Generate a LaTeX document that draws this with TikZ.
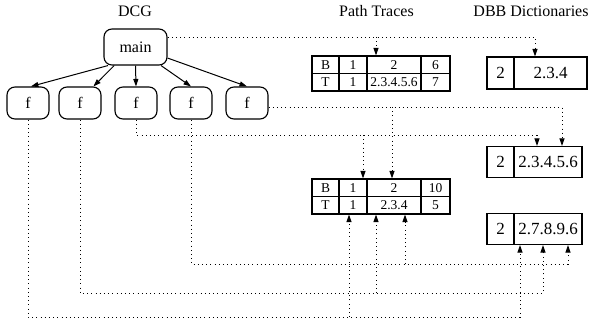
\documentclass[tikz,border=0pt]{standalone}
\usepackage{fontspec}
\setmainfont{Liberation Serif}
\usetikzlibrary{arrows.meta}

\begin{document}
\begin{tikzpicture}[x=1pt, y=-1pt,
  title/.style={font=\fontsize{16}{18}\selectfont, anchor=base},
  fun/.style={draw, line width=1.1pt, rounded corners=8pt, minimum width=42pt,
    minimum height=32pt, inner sep=0pt, font=\fontsize{16}{18}\selectfont},
  cell/.style={draw, line width=1.1pt, minimum height=17.5pt, inner sep=0pt,
    font=\fontsize{13.5}{15}\selectfont},
  dict/.style={draw, line width=1.1pt, minimum height=31pt, inner sep=0pt,
    font=\fontsize{17}{19}\selectfont},
  call/.style={-{Triangle[length=7.5pt,width=5pt]}, line width=1pt},
  trace/.style={line width=0.9pt, dash pattern=on 0.9pt off 3.3pt},
  tracearr/.style={trace, -{Triangle[length=7.5pt,width=5pt]}}]

  \useasboundingbox (0,0) rectangle (592,321);

  % Titles
  \draw (135,17) node[title] (tdcg) {DCG};
  \draw (376.5,17) node[title] (tpath) {Path Traces};
  \draw (531,17) node[title] (tdict) {DBB Dictionaries};

  % Call graph
  \draw (135.5,47) node[fun, minimum width=63pt, minimum height=36pt] (main) {main};
  \draw (28,103) node[fun] (f1) {f};
  \draw (80,103) node[fun] (f2) {f};
  \draw (136,103) node[fun] (f3) {f};
  \draw (191,103) node[fun] (f4) {f};
  \draw (247,103) node[fun] (f5) {f};

  \draw[call] (main.214) -- (f1.80);
  \draw[call] (main.221) -- (f2.51);
  \draw[call] (main.south) -- (f3.north);
  \draw[call] (main.324) -- (f4.north);
  \draw[call] (main.341) -- (f5.north);

  % Path trace one
  \draw (325.5,64.75) node[cell, minimum width=27pt] (ab1) {B};
  \draw (353,64.75) node[cell, minimum width=28pt] (ab2) {1};
  \draw (394,64.75) node[cell, minimum width=54pt] (ab3) {2};
  \draw (435.5,64.75) node[cell, minimum width=29pt] (ab4) {6};
  \draw (325.5,82.25) node[cell, minimum width=27pt] (at1) {T};
  \draw (353,82.25) node[cell, minimum width=28pt] (at2) {1};
  \draw (394,82.25) node[cell, minimum width=54pt] (at3) {2.3.4.5.6};
  \draw (435.5,82.25) node[cell, minimum width=29pt] (at4) {7};

  % Path trace two
  \draw (325.5,187.75) node[cell, minimum width=27pt] (bb1) {B};
  \draw (353,187.75) node[cell, minimum width=28pt] (bb2) {1};
  \draw (394,187.75) node[cell, minimum width=54pt] (bb3) {2};
  \draw (435.5,187.75) node[cell, minimum width=29pt] (bb4) {10};
  \draw (325.5,205.25) node[cell, minimum width=27pt] (bt1) {T};
  \draw (353,205.25) node[cell, minimum width=28pt] (bt2) {1};
  \draw (394,205.25) node[cell, minimum width=54pt] (bt3) {2.3.4};
  \draw (435.5,205.25) node[cell, minimum width=29pt] (bt4) {5};

  % Dictionaries
  \draw (500.5,73) node[dict, minimum width=27pt, minimum height=32pt] (d1k) {2};
  \draw (550.5,73) node[dict, minimum width=73pt, minimum height=32pt] (d1v) {2.3.4};
  \draw (500.5,162) node[dict, minimum width=27pt] (d2k) {2};
  \draw (548,162) node[dict, minimum width=68pt] (d2v) {2.3.4.5.6};
  \draw (500.5,229) node[dict, minimum width=27pt] (d3k) {2};
  \draw (548,229) node[dict, minimum width=68pt] (d3v) {2.7.8.9.6};

  % Traces from main
  \coordinate (m1) at (376,37);
  \coordinate (m2) at (535,37);
  \draw[tracearr] (main.east |- m2) -- (m2) -- (m2 |- d1v.north);
  \draw[tracearr] (m1) -- (m1 |- ab3.north);

  % Traces from f5
  \coordinate (n1) at (392,107);
  \coordinate (n2) at (562,107);
  \draw[tracearr] (f5.east |- n2) -- (n2) -- (n2 |- d2v.north);
  \draw[tracearr] (n1) -- (n1 |- bb3.north);

  % Traces from f3
  \coordinate (o1) at (363,135);
  \coordinate (o2) at (537,135);
  \draw[tracearr] (f3.south) -- (f3.south |- o2) -- (o2) -- (o2 |- d2v.north);
  \draw[tracearr] (o1) -- (o1 |- bb2.north);

  % Traces from f4
  \coordinate (p1) at (405,264);
  \coordinate (p2) at (568,264);
  \draw[tracearr] (f4.south) -- (f4.south |- p2) -- (p2) -- (p2 |- d3v.south);
  \draw[tracearr] (p1) -- (p1 |- bt3.south);

  % Traces from f2
  \coordinate (q1) at (376,293);
  \coordinate (q2) at (543,293);
  \draw[tracearr] (f2.south) -- (f2.south |- q2) -- (q2) -- (q2 |- d3v.south);
  \draw[tracearr] (q1) -- (q1 |- bt3.south);

  % Traces from f1
  \coordinate (r1) at (349,317);
  \coordinate (r2) at (520,317);
  \draw[tracearr] (f1.south) -- (f1.south |- r2) -- (r2) -- (r2 |- d3v.south);
  \draw[tracearr] (r1) -- (r1 |- bt2.south);

\end{tikzpicture}
\end{document}
